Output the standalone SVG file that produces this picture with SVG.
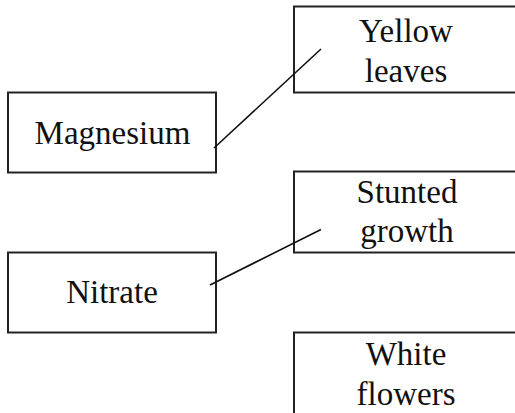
<svg xmlns="http://www.w3.org/2000/svg" width="515" height="413" viewBox="0 0 515 413">
<style>
.box{fill:#fff;stroke:#222;stroke-width:2}
.t{font-family:"Liberation Serif","Times New Roman",serif;font-size:33px;fill:#111;text-anchor:middle}
.c{stroke:#111;stroke-width:1.6;fill:none}
</style>
<rect width="515" height="413" fill="#fff"/>
<g id="magnesium">
<rect class="box" x="8" y="92.5" width="208" height="80"/>
<text class="t" x="112.5" y="144">Magnesium</text>
</g>
<g id="nitrate">
<rect class="box" x="8" y="252.5" width="208" height="80"/>
<text class="t" x="112" y="303">Nitrate</text>
</g>
<g id="yellow-leaves">
<path class="box" d="M516 6.5 H294 V92.5 H516"/>
<text class="t" x="406" y="41.5">Yellow</text>
<text class="t" x="406" y="81.5">leaves</text>
</g>
<g id="stunted-growth">
<path class="box" d="M516 171.5 H294 V252.5 H516"/>
<text class="t" x="407" y="203">Stunted</text>
<text class="t" x="407" y="241.5">growth</text>
</g>
<g id="white-flowers">
<path class="box" d="M516 332.5 H294 V414"/>
<text class="t" x="406" y="365">White</text>
<text class="t" x="406" y="405">flowers</text>
</g>
<g id="connectors">
<line class="c" x1="214" y1="148" x2="321" y2="49"/>
<line class="c" x1="210" y1="285" x2="321" y2="229.5"/>
</g>
</svg>
